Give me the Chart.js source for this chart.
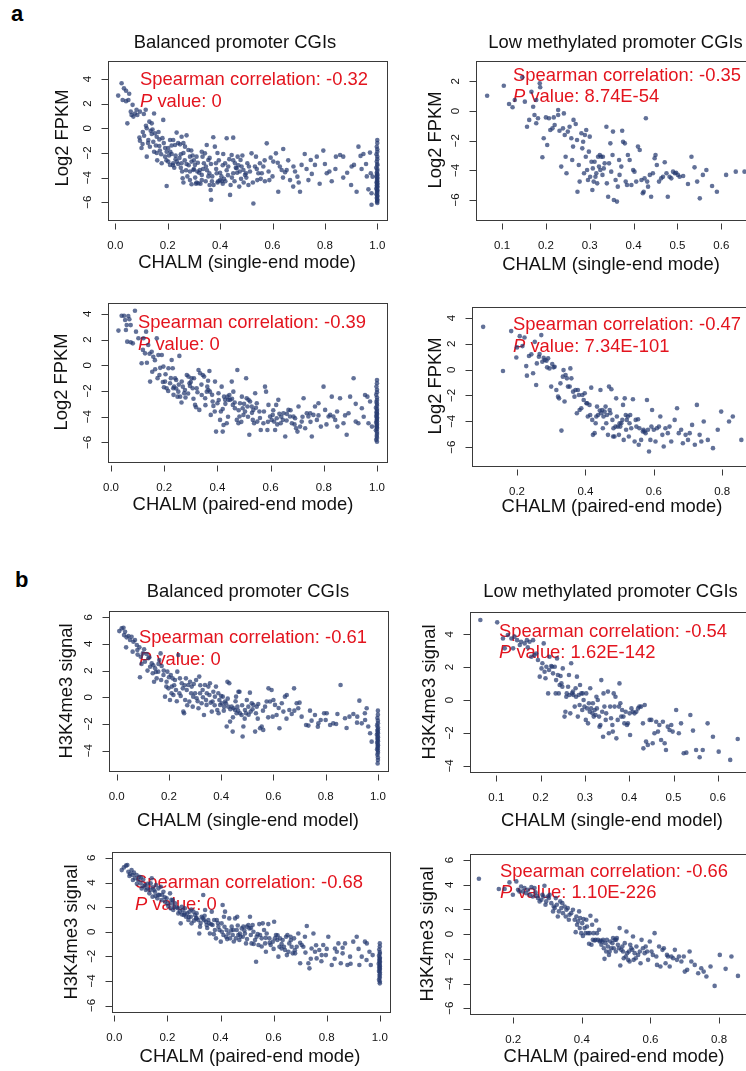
<!DOCTYPE html>
<html>
<head>
<meta charset="utf-8">
<script src="https://cdn.jsdelivr.net/npm/chart.js@4.4.1/dist/chart.umd.min.js"></script>
<style>
  html, body { margin: 0; padding: 0; background: #fff; overflow: hidden; }
  body { position: relative; width: 746px; height: 1071px; font-family: "Liberation Sans", Arial, Helvetica, sans-serif; }
  canvas { position: absolute; }
  .tag { position: absolute; font-weight: bold; font-size: 22px; line-height: 22px; color: #000; }
</style>
</head>
<body>
<div class="tag" style="left:11px;top:3px">a</div>
<div class="tag" style="left:15px;top:569px">b</div>
<script>
// ---- values ----
const panelTitles = ['Balanced promoter CGIs', 'Low methylated promoter CGIs'];
const xTitles = ['CHALM (single-end mode)', 'CHALM (single-end mode)', 'CHALM (paired-end mode)', 'CHALM (paired-end mode)',
                 'CHALM (single-end model)', 'CHALM (single-end model)', 'CHALM (paired-end mode)', 'CHALM (paired-end mode)'];
const yTitles = ['Log2 FPKM', 'Log2 FPKM', 'Log2 FPKM', 'Log2 FPKM',
                 'H3K4me3 signal', 'H3K4me3 signal', 'H3K4me3 signal', 'H3K4me3 signal'];
const spearmanRho = ['-0.32', '-0.35', '-0.39', '-0.47', '-0.61', '-0.54', '-0.68', '-0.66'];
const pValues = ['0', '8.74E-54', '0', '7.34E-101', '0', '1.62E-142', '0', '1.10E-226'];
const xTickSteps = [0.2, 0.1, 0.2, 0.2, 0.2, 0.1, 0.2, 0.2];
const yTickStep = 2;

// a: balanced, single-end, Log2 FPKM
const fpkmBalancedSingle = [
[0.011,2.65],[0.024,3.65],[0.033,3.24],[0.041,3.05],[0.028,2.3],[0.041,2.2],[0.053,2.8],[0.05,2.3],[0.046,0.4],[0.059,1.35],
[0.069,0.95],[0.062,1.08],[0.075,1.2],[0.084,1.08],[0.081,1.5],[0.094,1.35],[0.109,1.16],[0.116,1.5],[0.066,1.9],[0.092,-0.75],
[0.094,-1.0],[0.104,-1.27],[0.1,-1.6],[0.117,0.2],[0.12,0.0],[0.13,0.54],[0.139,0.4],[0.148,1.2],[0.142,-0.1],[0.151,-0.4],
[0.158,-0.68],[0.139,-0.46],[0.168,-0.9],[0.183,0.68],[0.18,-0.8],[0.126,-0.95],[0.132,-1.5],[0.148,-1.9],[0.12,-2.3],[0.158,-2.0],
[0.168,-1.43],[0.177,-2.84],[0.19,-2.3],[0.196,-1.9],[0.202,-1.6],[0.209,-0.95],[0.215,-2.08],[0.221,-0.95],[0.228,-1.35],[0.234,-0.35],
[0.24,-1.2],[0.247,-1.3],[0.253,-0.68],[0.202,-2.7],[0.209,-2.97],[0.221,-2.84],[0.24,-2.9],[0.26,-2.0],[0.266,-1.49],[0.272,-0.57],
[0.279,-1.76],[0.285,-2.3],[0.291,-2.7],[0.298,-3.38],[0.304,-2.97],[0.31,-2.3],[0.253,-2.84],[0.272,-2.9],[0.257,-4.05],[0.26,-4.4],
[0.196,-4.68],[0.285,-3.5],[0.291,-4.54],[0.308,-4.5],[0.317,-4.46],[0.313,-3.5],[0.323,-3.38],[0.33,-3.78],[0.333,-2.3],[0.338,-2.84],
[0.342,-2.03],[0.346,-3.1],[0.349,-1.35],[0.355,-2.57],[0.359,-3.65],[0.364,-5.0],[0.369,-4.3],[0.366,-5.8],[0.374,-0.73],[0.38,-1.49],
[0.384,-2.84],[0.387,-3.65],[0.393,-4.3],[0.4,-4.2],[0.406,-4.3],[0.412,-2.08],[0.419,-2.84],[0.425,-0.81],[0.431,-3.1],[0.438,-5.4],
[0.444,-2.16],[0.45,-0.76],[0.45,-3.65],[0.457,-2.84],[0.463,-3.24],[0.467,-2.3],[0.473,-4.73],[0.478,-2.57],[0.482,-3.1],[0.489,-3.38],
[0.495,-3.78],[0.499,-3.65],[0.504,-2.84],[0.508,-4.6],[0.514,-3.5],[0.52,-2.03],[0.527,-6.1],[0.533,-3.1],[0.537,-2.3],[0.542,-4.2],
[0.546,-3.65],[0.552,-2.84],[0.559,-3.65],[0.565,-3.1],[0.571,-4.3],[0.578,-1.22],[0.588,-4.2],[0.593,-2.38],[0.603,-2.7],[0.613,-2.03],
[0.622,-5.14],[0.628,-3.1],[0.635,-3.38],[0.641,-1.68],[0.648,-3.57],[0.654,-3.38],[0.667,-4.2],[0.679,-4.73],[0.686,-3.5],[0.695,-3.92],
[0.705,-5.14],[0.711,-2.97],[0.723,-2.08],[0.737,-4.2],[0.746,-2.57],[0.762,-2.97],[0.769,-2.3],[0.794,-1.81],[0.807,-3.65],[0.817,-3.5],
[0.826,-4.3],[0.842,-2.3],[0.858,-2.16],[0.87,-2.3],[0.885,-3.6],[0.902,-3.1],[0.911,-2.97],[0.921,-5.14],[0.928,-1.49],[0.936,-2.24],
[0.947,-2.08],[0.957,-2.9],[0.966,-4.95],[0.972,-1.97],[0.975,-3.65],[0.978,-5.27],[0.978,-6.2],[0.982,-3.92],
[0.22,-3.0],[0.23,-2.5],[0.25,-3.2],[0.27,-3.4],[0.28,-3.0],[0.3,-3.3],[0.31,-4.4],[0.32,-3.6],[0.33,-4.2],[0.35,-3.4],
[0.36,-4.6],[0.37,-3.9],[0.39,-4.4],[0.4,-3.6],[0.41,-4.5],[0.42,-4.3],[0.43,-3.8],[0.44,-4.6],[0.46,-3.2],[0.47,-3.0],
[0.48,-4.1],[0.49,-4.4],[0.17,-1.8],[0.16,-2.6],[0.19,-1.6],[0.21,-1.9],[0.23,-2.2],[0.25,-2.1],[0.26,-1.2],[0.29,-1.8],
[0.3,-2.6],[0.33,-1.9],[0.36,-2.4],[0.39,-2.0],[0.41,-3.0],[0.45,-2.6],
[0.105,-0.3],[0.11,-0.6],[0.125,-1.2],[0.135,-0.2],[0.145,-1.1],[0.155,-1.4],[0.165,-0.3],[0.175,-2.1],[0.185,-1.2],[0.195,-2.6],
[0.205,-2.2],[0.215,-1.4],[0.225,-3.2],[0.235,-2.7],[0.245,-2.4],[0.255,-3.5],[0.265,-2.6],[0.275,-3.9],[0.285,-4.2],[0.295,-2.2],
[0.305,-4.0],[0.315,-2.8],[0.325,-4.5],[0.335,-3.3],[0.345,-4.3],[0.355,-3.9],[0.365,-2.9],[0.375,-4.6],[0.385,-3.3],[0.395,-2.6],
[0.405,-3.9],[0.415,-4.1],[0.425,-3.4],[0.435,-2.5],[0.445,-4.0],[0.455,-4.3],[0.465,-3.6],[0.475,-3.5],[0.485,-2.2],[0.5,-4.0],
[0.51,-3.1],[0.525,-4.4],[0.54,-3.3],[0.555,-4.1],[0.57,-2.6],[0.585,-3.5],[0.6,-3.9],[0.62,-2.8],[0.64,-4.0],[0.66,-2.6],
[0.68,-3.1],[0.7,-4.4],[0.73,-3.3],[0.75,-3.7],[0.78,-4.5],[0.8,-2.9],[0.84,-3.3],[0.87,-4.0],[0.9,-4.6],[0.94,-3.3],[0.96,-3.9],
[1,-0.95],[1,-1.2],[0.998,-1.5],[1,-1.7],[1,-1.9],[0.997,-2.1],[1,-2.3],[1,-2.5],[0.998,-2.7],[1,-2.9],
[1,-3.0],[0.996,-3.2],[1,-3.3],[1,-3.45],[0.998,-3.6],[1,-3.7],[1,-3.8],[0.997,-3.9],[1,-4.0],[1,-4.1],
[0.999,-4.2],[1,-4.3],[0.997,-4.4],[1,-4.45],[1,-4.55],[0.998,-4.65],[1,-4.7],[1,-4.8],[0.996,-4.9],[1,-5.0],
[1,-5.05],[0.999,-5.15],[1,-5.25],[0.997,-5.35],[1,-5.45],[1,-5.55],[0.998,-5.65],[1,-5.75],[1,-5.85],[0.999,-5.95],[1,-6.05]
];

// a: low methylated, single-end, Log2 FPKM
const fpkmLowSingle = [
[0.066,1.03],[0.104,1.7],[0.116,0.47],[0.124,0.25],[0.129,0.74],[0.146,2.27],[0.152,0.63],[0.157,-1.06],[0.162,-0.6],[0.167,1.3],
[0.171,0.29],[0.174,-0.27],[0.178,0.74],[0.182,-0.49],[0.186,1.87],[0.187,1.6],[0.178,-0.83],[0.192,-3.12],[0.195,-1.84],[0.2,-0.43],
[0.203,-2.29],[0.207,-0.49],[0.21,-1.28],[0.215,-1.17],[0.218,-0.43],[0.22,-0.94],[0.228,0.07],[0.228,-0.27],[0.231,-1.33],[0.235,-3.75],
[0.239,-1.17],[0.241,-0.16],[0.243,-1.62],[0.245,-3.08],[0.247,-4.2],[0.25,-1.39],[0.254,-1.06],[0.258,-1.84],[0.26,-3.3],[0.262,-2.4],
[0.263,-0.6],[0.268,-0.88],[0.271,-1.96],[0.272,-5.44],[0.275,-3.64],[0.277,-4.76],[0.281,-1.5],[0.283,-2.52],[0.285,-2.07],[0.287,-4.2],
[0.289,-1.62],[0.291,-3.08],[0.292,-1.28],[0.294,-3.98],[0.296,-4.65],[0.298,-2.74],[0.3,-1.73],[0.301,-4.43],[0.304,-3.42],[0.306,-5.33],
[0.307,-3.87],[0.309,-4.76],[0.311,-3.42],[0.313,-4.43],[0.315,-4.2],[0.317,-4.88],[0.319,-3.08],[0.321,-3.75],[0.323,-2.97],[0.324,-3.98],
[0.326,-3.08],[0.329,-4.31],[0.33,-3.08],[0.332,-3.87],[0.334,-3.53],[0.338,-1.06],[0.339,-4.88],[0.342,-5.78],[0.344,-3.53],[0.347,-2.18],
[0.349,-4.09],[0.352,-2.97],[0.353,-1.39],[0.355,-6.0],[0.359,-4.65],[0.362,-6.11],[0.364,-5.1],[0.367,-3.3],[0.368,-4.31],[0.372,-3.75],
[0.374,-1.33],[0.376,-2.07],[0.38,-2.18],[0.382,-4.76],[0.385,-4.99],[0.387,-2.97],[0.391,-3.3],[0.395,-4.99],[0.399,-3.98],[0.402,-4.09],
[0.406,-4.76],[0.41,-2.4],[0.414,-2.63],[0.418,-4.65],[0.421,-5.55],[0.423,-5.44],[0.425,-4.54],[0.428,-0.49],[0.431,-4.76],[0.433,-5.1],
[0.437,-4.31],[0.44,-5.78],[0.444,-4.2],[0.448,-3.19],[0.45,-2.97],[0.453,-3.64],[0.458,-4.76],[0.463,-4.54],[0.467,-4.43],[0.471,-3.46],
[0.475,-4.2],[0.478,-5.78],[0.482,-4.43],[0.486,-4.54],[0.49,-4.09],[0.494,-4.2],[0.497,-4.16],[0.501,-4.31],[0.505,-4.43],[0.513,-4.38],
[0.524,-4.92],[0.532,-3.08],[0.539,-3.8],[0.545,-4.76],[0.551,-5.89],[0.558,-4.31],[0.566,-3.98],[0.579,-5.06],[0.59,-5.44],[0.611,-4.31],
[0.633,-4.09],[0.653,-4.09]
];

// a: balanced, paired-end, Log2 FPKM
const fpkmBalancedPaired = [
[0.028,2.7],[0.04,3.86],[0.049,3.86],[0.053,3.52],[0.059,3.13],[0.065,3.83],[0.056,2.75],[0.069,3.58],[0.074,3.13],[0.09,4.25],
[0.061,1.84],[0.074,1.79],[0.082,1.71],[0.094,2.62],[0.103,2.1],[0.115,0.16],[0.122,2.1],[0.128,0.93],[0.132,2.62],[0.14,1.58],
[0.147,-1.27],[0.153,1.06],[0.159,0.67],[0.166,-0.31],[0.172,2.1],[0.178,0.8],[0.182,-0.75],[0.191,0.8],[0.197,-0.1],[0.199,-1.71],
[0.203,-1.27],[0.209,-1.79],[0.216,-0.23],[0.222,-1.4],[0.228,0.41],[0.232,-0.23],[0.234,-1.79],[0.237,-1.66],[0.241,-1.01],[0.245,-1.14],
[0.25,-2.44],[0.253,-2.05],[0.257,0.73],[0.26,-2.44],[0.266,-1.27],[0.27,-1.66],[0.275,-2.18],[0.278,-1.92],[0.285,-0.75],[0.291,-0.88],
[0.295,-1.4],[0.297,-1.61],[0.303,-1.01],[0.307,-1.79],[0.312,-1.01],[0.316,-3.08],[0.32,-3.26],[0.322,-1.79],[0.329,-0.36],[0.332,-3.47],
[0.335,-0.62],[0.341,-2.31],[0.345,-0.75],[0.35,-0.88],[0.354,-2.56],[0.36,-2.05],[0.362,-1.66],[0.366,-1.92],[0.37,-0.44],[0.372,-2.05],
[0.375,-3.86],[0.382,-2.82],[0.385,-3.16],[0.391,-1.27],[0.395,-5.16],[0.4,-2.95],[0.404,-2.18],[0.41,-4.25],[0.413,-3.6],[0.416,-1.66],
[0.42,-5.16],[0.423,-4.64],[0.425,-2.44],[0.429,-2.69],[0.435,-4.51],[0.438,-2.44],[0.441,-2.69],[0.445,-2.31],[0.448,-2.69],[0.454,-1.27],
[0.458,-3.08],[0.46,-2.05],[0.466,-3.34],[0.473,-4.25],[0.475,-0.36],[0.479,-4.51],[0.483,-3.99],[0.485,-2.95],[0.492,-2.44],[0.495,-3.34],
[0.498,-3.86],[0.504,-3.6],[0.508,-1.01],[0.51,-2.56],[0.513,-3.21],[0.517,-2.69],[0.52,-5.41],[0.523,-2.82],[0.529,-3.21],[0.533,-4.25],
[0.535,-3.47],[0.538,-4.51],[0.542,-2.18],[0.548,-2.95],[0.55,-4.38],[0.558,-3.6],[0.563,-5.03],[0.573,-4.51],[0.579,-1.66],[0.583,-2.05],
[0.588,-5.03],[0.592,-3.08],[0.598,-3.99],[0.604,-4.25],[0.608,-3.86],[0.613,-4.38],[0.617,-5.03],[0.621,-3.08],[0.623,-4.12],[0.629,-2.69],
[0.633,-3.78],[0.638,-4.51],[0.646,-4.25],[0.648,-3.73],[0.655,-5.54],[0.661,-3.78],[0.667,-3.47],[0.673,-3.99],[0.68,-4.51],[0.686,-3.99],
[0.692,-4.12],[0.696,-4.9],[0.701,-5.16],[0.705,-3.21],[0.711,-4.77],[0.717,-4.38],[0.724,-2.56],[0.73,-4.9],[0.736,-3.73],[0.742,-3.99],
[0.749,-3.73],[0.755,-5.54],[0.761,-3.86],[0.767,-3.21],[0.774,-4.25],[0.78,-2.95],[0.789,-4.77],[0.799,-1.66],[0.805,-3.47],[0.818,-3.99],
[0.824,-3.86],[0.83,-2.44],[0.836,-3.99],[0.843,-4.25],[0.851,-4.77],[0.861,-2.56],[0.874,-4.51],[0.886,-5.41],[0.893,-3.73],[0.899,-2.44],
[0.912,-1.01],[0.92,-4.38],[0.93,-4.51],[0.943,-3.34],[0.955,-2.31],[0.964,-2.44],[0.968,-4.51],[0.974,-2.82],[0.981,-4.77],
[0.12,1.2],[0.135,0.2],[0.145,0.9],[0.155,-0.5],[0.165,0.4],[0.175,-1.0],[0.185,-0.2],[0.195,-1.3],[0.205,-0.7],[0.215,-2.0],
[0.225,-1.0],[0.235,-2.3],[0.245,-1.8],[0.255,-1.5],[0.265,-2.9],[0.28,-2.5],[0.29,-2.2],[0.3,-1.3],[0.31,-2.6],[0.325,-2.1],
[0.34,-1.5],[0.355,-3.1],[0.365,-1.2],[0.38,-2.3],[0.39,-3.6],[0.405,-2.7],[0.42,-3.4],[0.43,-3.0],[0.44,-4.0],[0.455,-2.6],
[0.465,-2.9],[0.48,-3.5],[0.49,-4.4],[0.5,-3.0],[0.515,-4.0],[0.53,-3.7],[0.545,-3.3],[0.56,-4.1],[0.575,-3.6],[0.59,-4.4],
[0.61,-3.5],[0.625,-4.6],[0.64,-4.0],[0.66,-4.3],[0.675,-3.5],[0.69,-4.6],[0.72,-4.0],[0.75,-4.4],[0.78,-3.9],[0.81,-4.6],
[0.85,-3.6],[0.88,-3.9],[0.92,-3.0],[0.95,-4.0],
[1,-1.15],[1,-1.4],[0.998,-1.65],[1,-1.9],[1,-2.1],[0.997,-2.3],[1,-2.5],[1,-2.7],[0.998,-2.85],[1,-3.0],
[1,-3.15],[0.996,-3.3],[1,-3.4],[1,-3.55],[0.998,-3.65],[1,-3.75],[1,-3.85],[0.997,-3.95],[1,-4.05],[1,-4.15],
[0.999,-4.25],[1,-4.35],[0.997,-4.45],[1,-4.55],[1,-4.65],[0.998,-4.75],[1,-4.85],[1,-4.95],[0.996,-5.05],[1,-5.2],
[1,-5.35],[0.999,-5.5],[1,-5.65],[0.997,-5.8],[1,-5.95]
];

// a: low methylated, paired-end, Log2 FPKM
const fpkmLowPaired = [
[0.101,3.32],[0.159,-0.1],[0.183,2.99],[0.198,0.95],[0.2,1.73],[0.208,2.6],[0.216,1.83],[0.222,2.5],[0.227,0.28],[0.229,-0.46],
[0.235,1.06],[0.242,1.19],[0.247,-0.28],[0.252,2.16],[0.256,-1.19],[0.258,0.49],[0.264,1.0],[0.266,1.21],[0.271,2.68],[0.274,0.62],
[0.278,0.93],[0.281,0.75],[0.286,0.7],[0.288,0.18],[0.291,0.88],[0.295,0.1],[0.3,-1.31],[0.303,0.44],[0.307,0.18],[0.31,0.23],
[0.315,-1.57],[0.32,-2.09],[0.323,-2.22],[0.327,-1.06],[0.33,-4.72],[0.334,-0.54],[0.336,-0.03],[0.339,-2.47],[0.342,-0.41],[0.346,-0.67],
[0.349,-1.31],[0.354,-1.31],[0.356,0.1],[0.359,-0.67],[0.364,-1.7],[0.368,-2.09],[0.371,-1.57],[0.375,-3.38],[0.378,-1.57],[0.381,-1.96],
[0.383,-3.12],[0.388,-2.99],[0.391,-1.96],[0.395,-2.35],[0.398,-1.83],[0.403,-2.6],[0.405,-2.6],[0.407,-3.63],[0.412,-2.73],[0.414,-3.51],
[0.417,-1.39],[0.42,-3.89],[0.422,-5.05],[0.427,-4.92],[0.43,-4.15],[0.432,-3.63],[0.434,-2.86],[0.437,-3.51],[0.442,-3.17],[0.444,-1.57],
[0.446,-3.38],[0.449,-3.12],[0.451,-4.54],[0.453,-3.63],[0.456,-3.25],[0.459,-2.86],[0.461,-4.15],[0.463,-3.51],[0.466,-5.05],[0.469,-1.31],
[0.471,-3.12],[0.473,-3.38],[0.476,-1.52],[0.479,-3.89],[0.481,-5.18],[0.482,-4.54],[0.485,-5.18],[0.488,-4.41],[0.49,-2.22],[0.492,-3.63],
[0.495,-4.41],[0.498,-5.05],[0.5,-4.15],[0.502,-4.41],[0.505,-4.15],[0.508,-3.89],[0.51,-2.73],[0.512,-5.44],[0.515,-2.22],[0.518,-3.51],
[0.519,-4.66],[0.521,-3.89],[0.524,-3.63],[0.527,-5.18],[0.529,-4.15],[0.531,-3.51],[0.534,-4.54],[0.539,-2.29],[0.544,-5.57],[0.547,-3.89],
[0.549,-4.41],[0.554,-3.84],[0.556,-5.82],[0.558,-4.54],[0.563,-5.44],[0.568,-4.79],[0.57,-4.66],[0.573,-4.79],[0.576,-4.92],[0.58,-2.35],
[0.583,-4.66],[0.586,-6.34],[0.59,-5.44],[0.593,-4.41],[0.595,-3.12],[0.6,-4.66],[0.605,-5.57],[0.609,-4.54],[0.615,-4.41],[0.619,-3.63],
[0.625,-5.05],[0.629,-5.95],[0.634,-4.54],[0.641,-4.92],[0.646,-4.41],[0.651,-5.57],[0.661,-3.89],[0.668,-2.99],[0.673,-4.92],[0.68,-4.66],
[0.685,-5.7],[0.693,-5.05],[0.7,-5.44],[0.705,-4.92],[0.712,-4.28],[0.72,-5.82],[0.726,-2.73],[0.734,-5.05],[0.739,-5.57],[0.746,-4.02],
[0.758,-5.44],[0.773,-6.08],[0.787,-4.66],[0.797,-3.25],[0.82,-4.02],[0.831,-3.63],[0.856,-5.44]
];

// b: balanced, single-end, H3K4me3
const h3k4BalancedSingle = [
[0.01,4.96],[0.019,5.16],[0.026,5.21],[0.032,4.91],[0.028,4.66],[0.038,4.49],[0.045,4.59],[0.036,3.74],[0.051,4.29],[0.057,4.54],
[0.064,4.16],[0.07,4.29],[0.077,3.92],[0.061,3.42],[0.079,3.54],[0.087,3.74],[0.092,3.04],[0.089,1.5],[0.1,3.29],[0.108,2.67],
[0.115,3.24],[0.121,2.92],[0.128,2.29],[0.134,2.54],[0.138,1.8],[0.143,1.17],[0.147,2.17],[0.153,1.42],[0.159,1.92],[0.163,2.79],
[0.168,3.29],[0.172,2.34],[0.179,1.67],[0.185,0.05],[0.191,1.17],[0.194,1.92],[0.198,0.67],[0.204,-0.2],[0.207,1.67],[0.211,0.8],
[0.214,1.42],[0.217,0.17],[0.223,1.3],[0.227,0.55],[0.232,1.92],[0.236,3.17],[0.24,0.3],[0.242,1.42],[0.249,1.05],[0.253,0.67],
[0.255,-1.07],[0.258,-1.2],[0.262,-0.2],[0.265,1.42],[0.268,0.55],[0.274,0.92],[0.278,-0.32],[0.281,1.17],[0.287,0.8],[0.291,-0.7],
[0.293,0.05],[0.3,0.3],[0.304,1.3],[0.306,-0.07],[0.313,-0.82],[0.316,1.55],[0.319,0.3],[0.325,-0.45],[0.329,0.55],[0.334,-1.32],
[0.338,0.92],[0.342,-0.2],[0.344,-0.57],[0.351,0.8],[0.355,0.17],[0.357,1.05],[0.364,-1.07],[0.367,-0.32],[0.37,0.42],[0.376,0.05],
[0.38,0.8],[0.385,-0.95],[0.389,0.3],[0.393,-0.2],[0.396,-0.57],[0.402,-0.45],[0.406,0.05],[0.411,-0.7],[0.415,-0.32],[0.418,-0.45],
[0.421,-2.19],[0.424,1.17],[0.427,-0.7],[0.431,1.05],[0.434,-1.82],[0.44,-0.7],[0.444,-2.57],[0.447,-0.82],[0.453,-0.95],[0.457,0.05],
[0.459,-1.2],[0.462,-0.7],[0.466,0.42],[0.47,0.42],[0.472,-1.2],[0.478,-1.32],[0.482,-2.94],[0.485,-2.19],[0.491,-0.95],[0.495,-1.2],
[0.498,-0.2],[0.504,-0.7],[0.51,0.35],[0.513,-1.07],[0.517,-0.45],[0.523,-0.57],[0.53,-2.57],[0.533,-1.2],[0.536,-0.7],[0.542,-0.5],
[0.549,-2.32],[0.555,-2.19],[0.561,-2.44],[0.568,-0.7],[0.574,-0.32],[0.581,0.67],[0.587,-0.32],[0.593,0.55],[0.597,-1.45],[0.606,-0.57],
[0.612,-1.32],[0.623,-2.32],[0.632,-0.45],[0.638,-1.07],[0.644,0.05],[0.651,0.17],[0.661,-0.95],[0.67,-1.25],[0.679,0.67],[0.689,-0.45],
[0.695,-0.82],[0.708,-1.45],[0.725,-2.07],[0.734,-2.12],[0.746,-1.75],[0.759,-1.32],[0.772,-1.95],[0.781,-1.7],[0.794,-1.2],[0.804,-1.2],
[0.817,-2.07],[0.829,-1.95],[0.845,-1.25],[0.857,0.92],[0.874,-1.57],[0.891,-1.45],[0.906,-1.25],[0.921,-1.45],[0.929,-0.25],[0.938,-1.95],
[0.951,-1.7],[0.957,-0.82],[0.963,-2.19],[0.97,-2.69],[0.976,-3.32],
[0.08,3.2],[0.095,2.5],[0.105,3.6],[0.118,2.0],[0.125,3.0],[0.14,2.4],[0.15,1.9],[0.16,2.5],[0.17,1.3],[0.18,2.0],
[0.19,0.8],[0.2,1.5],[0.21,0.3],[0.22,0.9],[0.23,-0.3],[0.245,0.1],[0.26,0.9],[0.27,-0.6],[0.285,0.3],[0.295,1.0],
[0.31,-0.3],[0.32,0.9],[0.33,0.0],[0.345,0.3],[0.36,-0.4],[0.375,-0.6],[0.39,-1.2],[0.4,0.1],[0.41,-1.0],[0.425,-0.1],
[0.435,-0.9],[0.445,-1.5],[0.455,-0.3],[0.465,-1.0],[0.48,-0.6],[0.49,-1.6],[0.505,-1.3],[0.52,-0.9],[0.54,-1.6],[0.56,-1.0],
[0.58,-1.5],[0.6,-0.2],[0.62,-0.8],[0.65,-1.6],[0.68,-1.0],[0.7,-0.4],[0.74,-1.0],[0.77,-2.2],[0.8,-1.7],[0.84,-2.0],
[0.88,-2.3],[0.92,-1.9],[0.95,-1.2],
[1,-1.0],[1,-1.3],[0.998,-1.55],[1,-1.75],[1,-1.95],[0.997,-2.1],[1,-2.25],[1,-2.4],[0.998,-2.5],[1,-2.6],
[1,-2.7],[0.996,-2.8],[1,-2.9],[1,-3.0],[0.998,-3.1],[1,-3.2],[1,-3.3],[0.997,-3.4],[1,-3.5],[1,-3.6],
[0.999,-3.7],[1,-3.8],[0.997,-3.9],[1,-4.0],[1,-4.15],[0.998,-4.3],[1,-4.5],[1,-4.7],[0.999,-4.95]
];

// b: low methylated, single-end, H3K4me3
const h3k4LowSingle = [
[0.064,4.86],[0.102,4.72],[0.115,3.74],[0.119,3.14],[0.126,3.95],[0.134,3.74],[0.138,3.14],[0.141,3.85],[0.147,3.64],[0.153,3.34],
[0.156,3.54],[0.164,3.44],[0.169,3.64],[0.171,3.2],[0.175,3.54],[0.179,2.63],[0.183,3.64],[0.186,2.73],[0.19,2.83],[0.194,2.43],
[0.198,1.42],[0.202,1.92],[0.204,2.23],[0.207,3.44],[0.209,1.72],[0.211,1.32],[0.213,2.02],[0.217,0.4],[0.219,1.82],[0.22,2.63],
[0.224,2.06],[0.226,2.02],[0.228,1.62],[0.232,2.02],[0.234,0.4],[0.235,1.21],[0.237,2.53],[0.239,1.52],[0.241,0.4],[0.243,0.91],
[0.245,1.46],[0.247,1.01],[0.249,0.81],[0.25,1.92],[0.254,-1.01],[0.256,-0.71],[0.258,0.2],[0.259,0.4],[0.262,0.81],[0.264,1.52],
[0.265,0.3],[0.267,-0.81],[0.269,2.23],[0.271,0.4],[0.273,0.51],[0.274,0.3],[0.277,-0.4],[0.279,0.71],[0.28,0.2],[0.282,1.42],
[0.284,-1.01],[0.286,0.3],[0.288,-0.3],[0.289,0.91],[0.292,0.4],[0.294,-0.61],[0.295,0.4],[0.297,0.0],[0.299,-0.4],[0.302,-1.21],
[0.303,0.4],[0.305,-0.51],[0.307,-1.42],[0.309,-0.2],[0.311,-0.71],[0.312,0.71],[0.314,-0.51],[0.317,-0.81],[0.318,-0.2],[0.32,-1.01],
[0.322,-0.61],[0.324,-0.91],[0.326,0.2],[0.327,-0.51],[0.329,0.0],[0.332,-1.01],[0.333,-1.62],[0.335,-1.52],[0.337,1.21],[0.339,-0.71],
[0.341,-2.23],[0.342,0.4],[0.344,-0.4],[0.347,-1.21],[0.348,-0.81],[0.352,0.51],[0.354,-2.02],[0.357,-0.4],[0.359,-1.11],[0.362,-1.52],
[0.363,-1.92],[0.365,0.4],[0.367,-0.4],[0.369,0.2],[0.371,-2.33],[0.374,-1.21],[0.377,-0.4],[0.378,1.01],[0.38,-0.2],[0.382,-1.01],
[0.384,-0.61],[0.387,-1.01],[0.389,-1.42],[0.392,-0.71],[0.395,-1.52],[0.397,-1.42],[0.401,-0.81],[0.402,-2.13],[0.405,-0.51],[0.408,-0.71],
[0.412,-0.81],[0.416,-0.71],[0.42,-0.51],[0.423,-0.4],[0.427,-0.4],[0.431,-1.42],[0.432,-2.94],[0.435,-0.3],[0.438,-2.53],[0.442,-2.73],
[0.446,-1.21],[0.45,-1.21],[0.453,-2.63],[0.457,-2.02],[0.461,-1.32],[0.465,-1.92],[0.468,-1.52],[0.472,-2.43],[0.476,-1.32],[0.48,-2.63],
[0.483,-3.04],[0.487,-1.62],[0.491,-1.82],[0.495,-1.52],[0.498,-1.92],[0.506,-0.61],[0.512,-2.02],[0.517,-1.42],[0.523,-3.24],[0.529,-3.2],
[0.538,-0.91],[0.544,-1.86],[0.551,-3.04],[0.559,-3.48],[0.566,-3.04],[0.577,-1.42],[0.589,-2.23],[0.602,-3.14],[0.628,-3.64],[0.645,-2.37]
];

// b: balanced, paired-end, H3K4me3
const h3k4BalancedPaired = [
[0.028,5.01],[0.036,5.23],[0.044,5.37],[0.049,5.42],[0.053,4.88],[0.059,4.69],[0.057,4.53],[0.065,5.01],[0.069,4.61],[0.074,4.8],
[0.078,4.34],[0.084,4.61],[0.09,4.2],[0.094,4.47],[0.099,3.93],[0.103,3.52],[0.109,4.25],[0.116,3.79],[0.119,3.39],[0.124,3.52],
[0.132,3.12],[0.137,3.93],[0.141,4.34],[0.144,2.85],[0.149,3.39],[0.153,3.25],[0.157,3.79],[0.162,2.71],[0.166,3.52],[0.17,2.98],
[0.175,3.66],[0.178,2.57],[0.185,3.25],[0.191,2.44],[0.197,2.71],[0.203,2.09],[0.21,3.12],[0.212,1.9],[0.216,2.3],[0.22,2.57],
[0.222,1.76],[0.229,2.3],[0.235,1.98],[0.241,1.49],[0.247,1.63],[0.25,0.68],[0.254,2.03],[0.257,1.76],[0.262,1.36],[0.266,1.9],
[0.27,1.22],[0.275,1.49],[0.279,0.95],[0.283,1.63],[0.288,1.22],[0.291,0.68],[0.298,1.63],[0.304,1.36],[0.308,1.08],[0.31,1.49],
[0.316,0.95],[0.32,-0.14],[0.323,0.41],[0.329,1.22],[0.333,1.08],[0.335,2.98],[0.338,0.95],[0.342,1.76],[0.345,0.81],[0.348,0.54],
[0.354,0.95],[0.358,0.68],[0.36,-0.14],[0.367,1.63],[0.37,0.54],[0.376,0.95],[0.379,0.14],[0.383,-0.54],[0.386,0.95],[0.392,0.41],
[0.396,0.14],[0.401,-0.81],[0.404,0.68],[0.408,2.17],[0.411,-0.27],[0.413,1.22],[0.417,1.63],[0.421,-0.41],[0.423,0.14],[0.43,-0.14],
[0.433,1.08],[0.436,-0.54],[0.442,0.41],[0.446,-0.27],[0.448,0.14],[0.455,1.08],[0.458,-0.54],[0.461,0.14],[0.463,1.22],[0.467,-0.27],
[0.471,-0.68],[0.473,-0.14],[0.48,0.27],[0.484,-0.41],[0.486,0.41],[0.492,-0.14],[0.496,-0.95],[0.499,0.41],[0.505,0.54],[0.509,0.27],
[0.511,1.22],[0.514,-0.27],[0.517,-0.95],[0.521,0.54],[0.524,0.0],[0.53,-0.68],[0.534,-2.44],[0.536,-0.41],[0.543,-1.08],[0.546,0.62],
[0.549,-0.27],[0.555,-0.54],[0.559,0.68],[0.564,0.14],[0.568,-0.95],[0.571,-1.63],[0.574,-0.14],[0.58,0.62],[0.584,-0.54],[0.589,-1.08],
[0.597,-0.81],[0.602,0.81],[0.605,-0.54],[0.609,-0.27],[0.614,-0.68],[0.618,-2.03],[0.622,-1.22],[0.624,-0.54],[0.63,-1.36],[0.634,-0.68],
[0.639,-1.22],[0.643,-1.49],[0.647,-0.41],[0.652,-0.27],[0.656,-1.63],[0.659,-0.95],[0.664,-0.41],[0.668,-1.22],[0.672,-1.76],[0.677,-0.54],
[0.681,-1.76],[0.687,-1.22],[0.693,-0.14],[0.7,-2.57],[0.706,-1.08],[0.712,-1.22],[0.718,-0.41],[0.725,0.46],[0.731,-2.57],[0.735,-2.98],
[0.743,-1.36],[0.75,-0.14],[0.756,-1.63],[0.762,-2.17],[0.772,-1.49],[0.781,-1.9],[0.787,-1.08],[0.797,-1.9],[0.806,-0.41],[0.819,-2.71],
[0.831,-1.36],[0.838,-1.63],[0.844,-0.95],[0.853,-2.57],[0.86,-1.76],[0.869,-0.95],[0.878,-2.71],[0.888,-2.03],[0.9,-0.81],[0.913,-0.41],
[0.923,-2.71],[0.932,-2.03],[0.944,-0.81],[0.951,-0.95],[0.961,-1.63],[0.966,-2.71],[0.973,-1.9],
[0.07,4.2],[0.085,3.9],[0.1,4.4],[0.11,3.7],[0.125,3.9],[0.135,3.4],[0.145,3.6],[0.155,2.9],[0.165,3.0],[0.18,3.0],
[0.19,2.8],[0.2,2.3],[0.215,2.6],[0.225,2.0],[0.24,1.9],[0.255,1.4],[0.265,1.5],[0.28,1.2],[0.29,1.8],[0.3,0.9],
[0.31,1.1],[0.325,0.7],[0.34,1.3],[0.35,0.3],[0.365,0.6],[0.375,-0.2],[0.39,0.7],[0.405,0.0],[0.415,0.4],[0.425,-0.6],
[0.44,0.1],[0.45,-0.8],[0.465,0.5],[0.475,-0.4],[0.49,0.1],[0.5,-0.6],[0.515,0.3],[0.525,-1.0],[0.54,-0.2],[0.555,-1.2],
[0.57,-0.5],[0.585,-0.9],[0.6,-1.4],[0.615,-0.3],[0.63,-1.0],[0.65,-1.9],[0.665,-0.7],[0.68,-1.5],[0.7,-0.9],[0.72,-1.7],
[0.74,-2.2],[0.76,-1.1],[0.78,-2.4],[0.8,-1.4],[0.83,-2.2],[0.86,-1.3],[0.89,-2.6],[0.92,-1.4],[0.95,-2.3],
[1,-0.95],[1,-1.2],[0.998,-1.45],[1,-1.65],[1,-1.8],[0.997,-1.95],[1,-2.1],[1,-2.2],[0.998,-2.3],[1,-2.4],
[1,-2.5],[0.996,-2.6],[1,-2.7],[1,-2.8],[0.998,-2.9],[1,-3.0],[1,-3.1],[0.997,-3.2],[1,-3.3],[1,-3.45],
[0.999,-3.6],[1,-3.75],[0.997,-3.9],[1,-4.05],[1,-4.2]
];

// b: low methylated, paired-end, H3K4me3
const h3k4LowPaired = [
[0.1,4.49],[0.158,3.65],[0.175,3.65],[0.189,4.19],[0.199,3.19],[0.209,4.27],[0.214,3.59],[0.218,3.46],[0.223,3.86],[0.228,3.46],
[0.233,3.73],[0.238,3.32],[0.243,3.59],[0.248,3.19],[0.253,3.81],[0.257,3.05],[0.262,3.73],[0.265,3.38],[0.269,3.11],[0.272,2.92],
[0.277,2.65],[0.282,2.78],[0.285,3.19],[0.288,3.05],[0.291,3.92],[0.294,2.38],[0.296,2.65],[0.301,3.05],[0.304,2.92],[0.306,3.19],
[0.311,2.51],[0.316,1.84],[0.318,2.24],[0.321,2.11],[0.324,2.92],[0.327,2.38],[0.33,1.43],[0.333,1.84],[0.337,2.65],[0.34,2.11],
[0.343,2.51],[0.345,1.7],[0.35,2.24],[0.353,1.43],[0.355,1.97],[0.359,2.11],[0.362,1.16],[0.364,1.57],[0.369,1.7],[0.374,1.97],
[0.379,1.16],[0.382,0.16],[0.384,1.43],[0.386,0.76],[0.389,1.03],[0.392,1.84],[0.394,0.49],[0.395,1.3],[0.398,0.08],[0.401,0.89],
[0.403,-0.14],[0.405,1.22],[0.408,0.49],[0.411,0.08],[0.413,1.16],[0.415,0.62],[0.418,0.08],[0.421,-0.78],[0.423,0.08],[0.425,1.49],
[0.428,-0.86],[0.43,0.76],[0.432,-0.46],[0.434,0.08],[0.437,-0.51],[0.44,-0.46],[0.442,1.11],[0.444,0.08],[0.447,-0.46],[0.45,0.35],
[0.452,-0.59],[0.454,-0.51],[0.457,-0.86],[0.46,-0.59],[0.462,-0.46],[0.464,-1.14],[0.466,-2.0],[0.469,-0.73],[0.471,-1.41],[0.473,-0.46],
[0.476,-1.0],[0.479,-1.68],[0.481,-1.41],[0.483,-0.59],[0.486,-1.14],[0.489,-0.73],[0.491,-0.32],[0.493,-1.14],[0.496,-0.46],[0.499,-1.41],
[0.5,-0.46],[0.502,-0.32],[0.505,-0.86],[0.508,-1.14],[0.51,0.49],[0.512,-2.54],[0.515,-1.27],[0.518,-1.0],[0.52,-1.41],[0.522,-1.95],
[0.525,-0.73],[0.528,-1.81],[0.53,0.22],[0.532,-1.54],[0.535,-2.08],[0.537,-1.41],[0.539,-2.22],[0.541,-0.86],[0.544,-1.14],[0.547,-1.27],
[0.549,-0.19],[0.551,-2.08],[0.554,-1.54],[0.557,-1.95],[0.559,-1.0],[0.564,-1.68],[0.569,-1.41],[0.571,-2.35],[0.574,-0.46],[0.578,-1.14],
[0.583,-1.54],[0.586,-1.0],[0.59,-1.41],[0.593,-2.08],[0.598,-0.59],[0.603,-1.41],[0.607,-1.68],[0.612,0.08],[0.617,-1.81],[0.619,-2.49],
[0.625,-1.0],[0.629,-2.62],[0.635,-1.27],[0.639,-1.14],[0.644,-2.35],[0.648,-1.68],[0.651,-1.81],[0.656,-2.62],[0.661,-1.81],[0.666,-1.95],
[0.671,-1.27],[0.677,-2.08],[0.683,-1.81],[0.69,-2.22],[0.697,-1.81],[0.7,-3.03],[0.707,-2.89],[0.714,-1.41],[0.719,-2.22],[0.729,-2.49],
[0.739,-3.16],[0.748,-2.76],[0.755,-3.03],[0.763,-3.43],[0.775,-2.62],[0.787,-4.19],[0.802,-1.68],[0.819,-2.81],[0.836,-1.81],[0.855,-3.38]
];

const series = [fpkmBalancedSingle, fpkmLowSingle, fpkmBalancedPaired, fpkmLowPaired,
                h3k4BalancedSingle, h3k4LowSingle, h3k4BalancedPaired, h3k4LowPaired];

// ---- layout (page pixels) ----
const FONT = '"Liberation Sans", Arial, Helvetica, sans-serif';
const TEXT_PX = 18.4;
const TICK_PX = 11.5;
const RED = '#e3141e';
const INK = '#111111';
const AXIS = '#3a3a3a';
const DOT = 'rgba(38, 58, 112, 0.72)';
const COL_LEFT = [40, 405];

const layout = [
  { col: 0, box: [108, 61, 387, 220],   x: [-0.0279, 1.037],  y: [-7.437, 5.458], title: [235, 43],    xt: [247, 263],  yt: [63, 138],  stat: [140, 80, 102] },
  { col: 1, box: [476, 61, 775, 220],   x: [0.0406, 0.7225],  y: [-7.35, 3.372],  title: [615.5, 43],  xt: [611, 265],  yt: [436, 140], stat: [513, 76, 97] },
  { col: 0, box: [108, 303, 387, 462],  x: [-0.0113, 1.0376], y: [-7.525, 4.848], title: null,         xt: [243, 505],  yt: [62, 382],  stat: [138, 323, 345] },
  { col: 1, box: [472, 307, 775, 466],  x: [0.0684, 0.9544],  y: [-7.465, 4.86],  title: null,         xt: [612, 507],  yt: [436, 386], stat: [513, 325, 347] },
  { col: 0, box: [109, 611, 388, 771],  x: [-0.0295, 1.0386], y: [-5.52, 6.464],  title: [248, 592],   xt: [248, 821],  yt: [67, 691],  stat: [139, 638, 660] },
  { col: 1, box: [470, 612, 775, 772],  x: [0.0406, 0.7291],  y: [-4.377, 5.35],  title: [610.5, 592], xt: [612, 821],  yt: [430, 692], stat: [499, 632, 653] },
  { col: 0, box: [112, 852, 390, 1012], x: [-0.0087, 1.0384], y: [-6.528, 6.48],  title: null,         xt: [250, 1057], yt: [72, 932],  stat: [135, 883, 905] },
  { col: 1, box: [470, 854, 775, 1014], x: [0.074, 0.9629],   y: [-6.464, 6.488], title: null,         xt: [614, 1057], yt: [428, 934], stat: [500, 872, 893] }
];

const TOP_SPACE = 50;
const BOTTOM_SPACE = 62;
const RIGHT_SPACE = 12;

function yLabel(v) {
  const n = Math.round(v);
  return n < 0 ? '\u2212' + (-n) : String(n);
}

const decor = {
  id: 'decor',
  beforeDatasetsDraw(chart, args, o) {
    const ctx = chart.ctx;
    const sx = o.stat[0] - o.left;
    ctx.save();
    ctx.fillStyle = RED;
    ctx.textBaseline = 'middle';
    ctx.textAlign = 'left';
    ctx.font = TEXT_PX + 'px ' + FONT;
    ctx.fillText('Spearman correlation: ' + o.rho, sx, o.stat[1] - o.top);
    ctx.font = 'italic ' + TEXT_PX + 'px ' + FONT;
    ctx.fillText('P', sx, o.stat[2] - o.top);
    const w = ctx.measureText('P').width;
    ctx.font = TEXT_PX + 'px ' + FONT;
    ctx.fillText(' value: ' + o.p, sx + w, o.stat[2] - o.top);
    ctx.restore();
  },
  afterDraw(chart, args, o) {
    const {ctx, chartArea: a} = chart;
    const xs = chart.scales.x;
    const ys = chart.scales.y;
    ctx.save();
    ctx.strokeStyle = AXIS;
    ctx.lineWidth = 1;
    const l = Math.round(a.left) + 0.5, t = Math.round(a.top) + 0.5;
    const r = Math.round(a.right) + 0.5, b = Math.round(a.bottom) + 0.5;
    ctx.strokeRect(l, t, r - l, b - t);
    ctx.beginPath();
    xs.ticks.forEach(tk => {
      const px = Math.round(xs.getPixelForValue(tk.value)) + 0.5;
      ctx.moveTo(px, b + 3);
      ctx.lineTo(px, b + 9);
    });
    ys.ticks.forEach(tk => {
      const py = Math.round(ys.getPixelForValue(tk.value)) + 0.5;
      ctx.moveTo(l - 7, py);
      ctx.lineTo(l, py);
    });
    ctx.stroke();

    // rotated y tick labels, reading bottom to top
    ctx.fillStyle = INK;
    ctx.textAlign = 'center';
    ctx.textBaseline = 'middle';
    ctx.font = TICK_PX + 'px ' + FONT;
    ys.ticks.forEach(tk => {
      const py = ys.getPixelForValue(tk.value);
      ctx.save();
      ctx.translate(l - 21, py);
      ctx.rotate(-Math.PI / 2);
      ctx.fillText(yLabel(tk.value), 0, 0);
      ctx.restore();
    });

    ctx.font = TEXT_PX + 'px ' + FONT;
    if (o.title) ctx.fillText(o.titleText, o.title[0] - o.left, o.title[1] - o.top);
    ctx.fillText(o.xText, o.xt[0] - o.left, o.xt[1] - o.top);
    ctx.translate(o.yt[0] - o.left, o.yt[1] - o.top);
    ctx.rotate(-Math.PI / 2);
    ctx.fillText(o.yText, 0, 0);
    ctx.restore();
  }
};

layout.forEach((p, i) => {
  const [bl, bt, br, bb] = p.box;
  const left = COL_LEFT[p.col];
  const top = bt - TOP_SPACE;
  const width = br + RIGHT_SPACE - left;
  const height = bb + BOTTOM_SPACE - top;
  const yAxisWidth = bl - left;

  const cv = document.createElement('canvas');
  cv.width = width;
  cv.height = height;
  cv.style.left = left + 'px';
  cv.style.top = top + 'px';
  cv.style.width = width + 'px';
  cv.style.height = height + 'px';
  document.body.appendChild(cv);

  new Chart(cv.getContext('2d'), {
    type: 'scatter',
    data: {
      datasets: [{
        data: series[i],
        backgroundColor: DOT,
        borderWidth: 0,
        pointRadius: 2.3,
        pointHoverRadius: 2.3
      }]
    },
    options: {
      responsive: false,
      animation: false,
      events: [],
      layout: { padding: { top: TOP_SPACE, right: RIGHT_SPACE, bottom: 0, left: 0 } },
      plugins: {
        legend: { display: false },
        tooltip: { enabled: false },
        decor: {
          left: left, top: top,
          stat: p.stat, rho: spearmanRho[i], p: pValues[i],
          title: p.title, titleText: panelTitles[i % 2],
          xt: p.xt, xText: xTitles[i],
          yt: p.yt, yText: yTitles[i]
        }
      },
      scales: {
        x: {
          type: 'linear',
          min: p.x[0], max: p.x[1],
          afterFit: s => { s.height = BOTTOM_SPACE; },
          border: { display: false },
          grid: { drawOnChartArea: false, color: 'rgba(0,0,0,0)', tickLength: 9 },
          ticks: {
            stepSize: xTickSteps[i], includeBounds: false, autoSkip: false, maxRotation: 0,
            padding: 10, color: INK, font: { family: FONT, size: TICK_PX },
            callback: v => Number(v).toFixed(1)
          }
        },
        y: {
          type: 'linear',
          min: p.y[0], max: p.y[1],
          afterFit: s => { s.width = yAxisWidth; },
          border: { display: false },
          grid: { display: false },
          ticks: { stepSize: yTickStep, includeBounds: false, autoSkip: false, display: false }
        }
      }
    },
    plugins: [decor]
  });
});
</script>
</body>
</html>
